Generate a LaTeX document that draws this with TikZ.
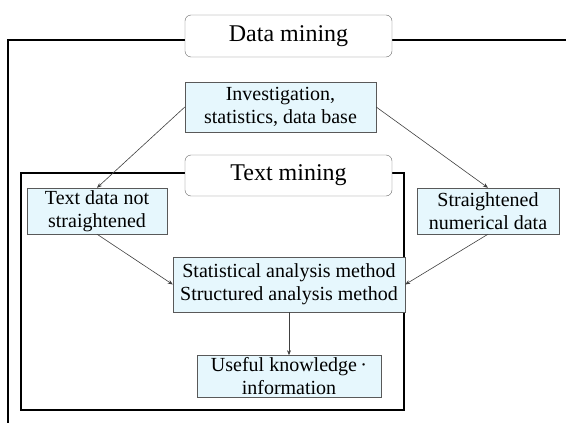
\documentclass[tikz,border=0pt]{standalone}
\usepackage{fontspec}
\setmainfont{Liberation Serif}
\usetikzlibrary{positioning, arrows.meta}

\begin{document}
\begin{tikzpicture}[
    x=1pt, y=-1pt,
    heading/.style={rectangle, draw=black!60, fill=white, rounded corners=6pt, minimum width=207pt, minimum height=42pt, inner sep=0pt, font=\fontsize{24}{28}\selectfont},
    datanode/.style={rectangle, draw=black!65, fill=cyan!10, align=center, inner sep=0pt, font=\fontsize{20}{23}\selectfont},
    arrow/.style={-{Stealth[length=5pt,width=4pt]}, draw=black!75, line width=0.6pt},
    frame/.style={draw=black, line width=1.4pt}
]
\useasboundingbox (0,0) rectangle (566,423);

% Frames
\draw[frame] (566,40) -- (8,40) -- (8,423);
\draw[frame, line width=1.8pt] (21,173) rectangle (404,410);

% Headings
\node[heading] (dm) at (288.5,36) {Data mining};
\node[heading, minimum height=41pt] (tm) at (288.5,175.5) {Text mining};

% Data
\node[datanode, minimum width=191pt, minimum height=50pt] (invest) at (280.5,107) {Investigation,\\statistics, data base};
\node[datanode, minimum width=140pt, minimum height=46pt] (textdata) at (97,211) {Text data not\\straightened};
\node[datanode, minimum width=142pt, minimum height=46pt] (numdata) at (488,211) {Straightened\\numerical data};
\node[datanode, minimum width=232pt, minimum height=55pt] (stat) at (289,284.5) {Statistical analysis method\\Structured analysis method};
\node[datanode, minimum width=184pt, minimum height=42pt, below=43pt of stat] (useful) {Useful knowledge\,·\\information};

% Arrows
\draw[arrow] (invest.west) -- (textdata.north);
\draw[arrow] (invest.east) -- (numdata.north);
\draw[arrow] (textdata.south) -- (stat.west);
\draw[arrow] (numdata.south) -- (stat.east);
\draw[arrow] (stat) -- (useful);

\end{tikzpicture}
\end{document}
